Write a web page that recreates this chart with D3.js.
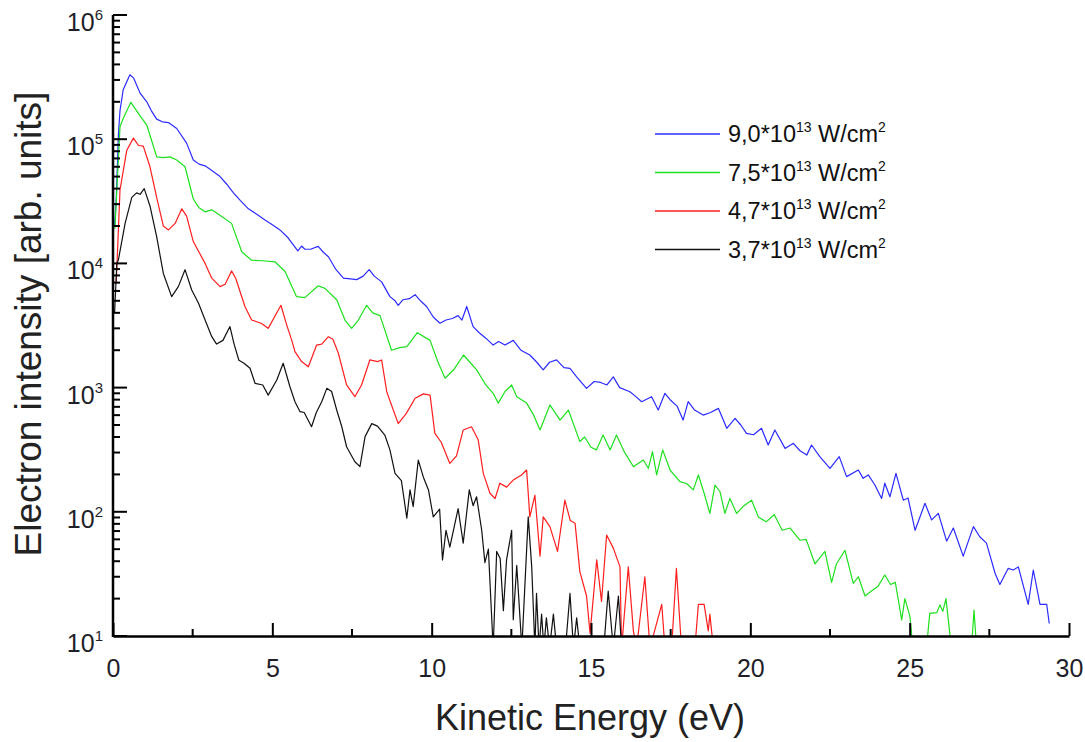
<!DOCTYPE html>
<html>
<head>
<meta charset="utf-8">
<script src="https://cdn.jsdelivr.net/npm/d3@7"></script>
<style>
  body { margin: 0; background: #fff; }
  text { font-family: "Liberation Sans", Arial, sans-serif; }
</style>
</head>
<body>
<div id="chart"></div>
<script>
// x ticks (eV) and y decades (10^n)
const xMajorTicks = [0, 5, 10, 15, 20, 25, 30];
const xMinorTicks = [2.5, 7.5, 12.5, 17.5, 22.5, 27.5];
const yDecades = [1, 2, 3, 4, 5, 6];

const legendLabels = ["9,0", "7,5", "4,7", "3,7"];
const colors = ["#2b2bff", "#1ee01e", "#ff1e1e", "#111111"];

// [energy eV, intensity]
const s90 = [
  [0.05, 2.0e4], [0.10, 3.2e4], [0.17, 1.1e5], [0.22, 1.7e5], [0.32, 2.5e5], [0.53, 3.3e5],
  [0.65, 3.1e5], [0.85, 2.35e5], [1.06, 2.0e5], [1.2, 1.7e5], [1.37, 1.45e5], [1.55, 1.38e5],
  [1.74, 1.36e5], [2.0, 1.22e5], [2.31, 9.3e4], [2.52, 6.8e4], [2.7, 6.3e4], [2.89, 6.1e4],
  [3.1, 5.6e4], [3.36, 5.0e4], [3.55, 4.4e4], [3.78, 3.7e4], [4.0, 3.2e4], [4.25, 2.75e4],
  [4.5, 2.5e4], [4.77, 2.24e4], [5.0, 2.05e4], [5.24, 1.86e4], [5.5, 1.6e4], [5.8, 1.26e4],
  [5.92, 1.38e4], [6.02, 1.3e4], [6.2, 1.3e4], [6.44, 1.37e4], [6.6, 1.23e4], [6.76, 1.13e4],
  [7.0, 8.9e3], [7.23, 7.6e3], [7.45, 7.5e3], [7.65, 7.4e3], [7.85, 7.9e3], [8.04, 8.9e3],
  [8.2, 7.9e3], [8.43, 7.1e3], [8.69, 5.4e3], [8.85, 5.0e3], [8.95, 4.6e3], [9.1, 5.1e3],
  [9.3, 5.2e3], [9.48, 5.6e3], [9.65, 5.0e3], [9.84, 4.5e3], [10.05, 3.7e3], [10.26, 3.3e3],
  [10.45, 3.5e3], [10.65, 3.6e3], [10.83, 3.8e3], [10.95, 3.5e3], [11.1, 4.5e3], [11.3, 3.1e3],
  [11.5, 2.75e3], [11.7, 2.5e3], [11.93, 2.2e3], [12.1, 2.35e3], [12.3, 2.2e3], [12.56, 2.4e3],
  [12.8, 2.0e3], [13.08, 1.83e3], [13.3, 1.6e3], [13.5, 1.39e3], [13.7, 1.6e3], [13.92, 1.67e3],
  [14.15, 1.45e3], [14.34, 1.43e3], [14.55, 1.22e3], [14.86, 985], [15.1, 1.12e3], [15.3, 1.1e3],
  [15.5, 1.05e3], [15.7, 1.22e3], [15.9, 1.0e3], [16.22, 927], [16.4, 850], [16.59, 770],
  [16.9, 845], [17.11, 660], [17.32, 900], [17.5, 790], [17.7, 710], [17.89, 548], [18.05, 770],
  [18.25, 660], [18.52, 601], [18.75, 630], [19.0, 680], [19.26, 470], [19.52, 566], [19.7, 500],
  [19.88, 428], [20.1, 417], [20.35, 470], [20.56, 345], [20.77, 456], [21.09, 324], [21.35, 356],
  [21.56, 310], [21.77, 286], [21.92, 345], [22.18, 278], [22.5, 224], [22.79, 278], [23.02, 192],
  [23.39, 217], [23.54, 186], [23.7, 198], [23.9, 166], [24.12, 128], [24.22, 170], [24.38, 132],
  [24.57, 204], [24.8, 124], [24.95, 129], [25.17, 71], [25.48, 117], [25.69, 86], [25.9, 97],
  [26.16, 58], [26.37, 74], [26.68, 44], [27.0, 76], [27.2, 63], [27.41, 56], [27.68, 32],
  [27.83, 26], [28.09, 35], [28.25, 34], [28.41, 36], [28.72, 18], [28.88, 34], [29.09, 18],
  [29.3, 18], [29.38, 12.6]
];

const s75 = [
  [0.06, 1.9e4], [0.22, 1.26e5], [0.32, 1.47e5], [0.56, 1.98e5], [0.79, 1.62e5], [1.06, 1.3e5],
  [1.2, 1.0e5], [1.37, 7.2e4], [1.55, 7.1e4], [1.79, 7.2e4], [2.0, 6.8e4], [2.26, 6.0e4],
  [2.52, 3.3e4], [2.7, 2.8e4], [2.89, 2.6e4], [3.1, 2.7e4], [3.4, 2.4e4], [3.72, 2.1e4],
  [4.04, 1.24e4], [4.35, 1.06e4], [4.7, 1.05e4], [5.08, 1.03e4], [5.4, 8.6e3], [5.76, 5.4e3],
  [6.02, 5.3e3], [6.44, 6.6e3], [6.65, 6.3e3], [7.02, 5.1e3], [7.28, 3.5e3], [7.49, 3.0e3],
  [7.7, 3.5e3], [7.96, 4.6e3], [8.15, 4.0e3], [8.38, 3.8e3], [8.74, 2.0e3], [9.0, 2.1e3],
  [9.22, 2.14e3], [9.55, 2.77e3], [9.95, 2.4e3], [10.2, 1.6e3], [10.42, 1.19e3], [10.7, 1.4e3],
  [11.0, 1.83e3], [11.2, 1.6e3], [11.41, 1.39e3], [11.7, 1.05e3], [11.93, 900], [12.09, 750],
  [12.3, 930], [12.51, 1.05e3], [12.67, 845], [12.98, 750], [13.2, 600], [13.4, 456],
  [13.71, 725], [14.03, 548], [14.29, 660], [14.65, 367], [14.8, 400], [15.0, 331], [15.17, 315],
  [15.38, 415], [15.6, 315], [15.8, 415], [16.05, 302], [16.33, 231], [16.64, 261], [16.8, 224],
  [16.93, 305], [17.06, 198], [17.25, 315], [17.48, 217], [17.79, 175], [18.0, 169], [18.21, 150],
  [18.37, 198], [18.55, 141], [18.73, 97], [18.89, 164], [19.05, 145], [19.2, 97], [19.36, 128],
  [19.57, 97], [19.8, 112], [20.04, 124], [20.25, 91], [20.5, 83], [20.75, 95], [21.0, 71],
  [21.25, 74], [21.56, 59], [21.75, 60], [22.03, 38], [22.34, 48], [22.55, 27], [22.7, 38],
  [22.97, 49], [23.23, 26.5], [23.39, 30], [23.6, 21], [23.8, 23], [24.0, 25], [24.22, 31],
  [24.4, 26], [24.55, 27], [24.75, 13.5], [24.85, 20], [25.01, 14.3], [25.1, 8], [25.53, 8],
  [25.63, 15.2], [25.85, 15.4], [25.95, 17.8], [26.04, 15.8], [26.14, 20], [26.31, 8], [26.94, 8],
  [27.02, 16.2], [27.1, 8]
];

const s47 = [
  [0.10, 6.9e3], [0.22, 3.9e4], [0.43, 8.1e4], [0.64, 1.02e5], [0.8, 8.9e4], [0.95, 8.8e4],
  [1.16, 6.0e4], [1.37, 3.4e4], [1.58, 2.0e4], [1.74, 1.86e4], [1.95, 2.1e4], [2.16, 2.75e4],
  [2.31, 2.4e4], [2.52, 1.5e4], [2.89, 1.0e4], [3.1, 7.6e3], [3.36, 6.5e3], [3.52, 6.8e3],
  [3.72, 8.7e3], [3.85, 7.6e3], [4.14, 4.5e3], [4.35, 3.5e3], [4.65, 3.3e3], [4.87, 3.0e3],
  [5.14, 4.0e3], [5.27, 4.6e3], [5.45, 3.2e3], [5.61, 2.4e3], [5.71, 1.95e3], [5.92, 1.62e3],
  [6.13, 1.47e3], [6.39, 2.2e3], [6.55, 2.24e3], [6.76, 2.57e3], [6.9, 2.45e3], [7.07, 1.9e3],
  [7.33, 1.05e3], [7.59, 845], [7.8, 1.05e3], [8.06, 1.67e3], [8.3, 1.62e3], [8.43, 1.67e3],
  [8.59, 927], [8.95, 513], [9.2, 617], [9.48, 820], [9.74, 890], [9.95, 870], [10.1, 428],
  [10.3, 363], [10.57, 245], [10.78, 282], [10.99, 456], [11.25, 484], [11.46, 380], [11.62, 204],
  [11.83, 141], [11.99, 128], [12.14, 170], [12.35, 158], [12.56, 180], [12.82, 198], [12.98, 217],
  [13.08, 91], [13.24, 136], [13.4, 44], [13.5, 91], [13.71, 76], [13.95, 48], [14.18, 124],
  [14.35, 85], [14.5, 81], [14.65, 33], [14.86, 21], [14.97, 10.5], [15.18, 41], [15.33, 19],
  [15.49, 65], [15.7, 51], [15.91, 36], [15.96, 8], [16.17, 36], [16.33, 11], [16.43, 8],
  [16.69, 30], [16.85, 8], [17.22, 18], [17.32, 8], [17.53, 8], [17.68, 35], [17.84, 8],
  [18.26, 8], [18.37, 18], [18.55, 18], [18.68, 11], [18.73, 15], [18.84, 8]
];

const s37 = [
  [0.05, 4.0e3], [0.12, 1.0e4], [0.17, 1.07e4], [0.38, 2.1e4], [0.59, 3.4e4], [0.74, 3.7e4],
  [0.85, 3.6e4], [0.98, 4.0e4], [1.16, 2.9e4], [1.37, 1.64e4], [1.58, 8.3e3], [1.84, 5.4e3],
  [2.05, 6.5e3], [2.26, 8.9e3], [2.47, 6.1e3], [2.68, 4.8e3], [2.89, 3.5e3], [3.1, 2.57e3],
  [3.25, 2.24e3], [3.45, 2.4e3], [3.67, 3.1e3], [3.8, 2.24e3], [3.95, 1.66e3], [4.1, 1.58e3],
  [4.3, 1.43e3], [4.46, 1.08e3], [4.7, 1.05e3], [4.87, 870], [5.14, 1.15e3], [5.34, 1.57e3],
  [5.55, 1.02e3], [5.71, 770], [5.87, 640], [6.0, 630], [6.23, 484], [6.38, 630], [6.55, 770],
  [6.71, 986], [6.86, 930], [7.02, 660], [7.18, 484], [7.33, 334], [7.59, 253], [7.75, 231],
  [7.91, 403], [8.12, 513], [8.3, 490], [8.53, 415], [8.69, 315], [8.85, 204], [9.05, 178],
  [9.22, 89], [9.32, 150], [9.42, 110], [9.58, 261], [9.74, 190], [9.9, 150], [10.05, 91],
  [10.25, 105], [10.34, 41], [10.45, 71], [10.57, 52], [10.83, 106], [10.99, 56], [11.18, 150],
  [11.3, 112], [11.41, 132], [11.57, 71], [11.67, 39], [11.78, 50], [11.93, 8], [12.04, 48],
  [12.15, 42], [12.25, 16], [12.35, 41], [12.51, 71], [12.56, 13.5], [12.67, 37], [12.83, 8],
  [13.03, 91], [13.14, 36], [13.24, 8], [13.29, 22], [13.37, 8], [13.45, 15], [13.52, 8],
  [13.6, 14], [13.7, 8], [13.82, 15], [13.92, 8], [14.2, 8], [14.34, 22], [14.45, 8], [14.55, 14],
  [14.65, 8], [15.4, 8], [15.54, 23], [15.7, 8], [15.86, 21], [15.96, 8]
];

const seriesList = [s90, s75, s47, s37];

const width = 1085, height = 742;
const margin = { top: 15, right: 16, bottom: 106, left: 113 };

const svg = d3.select("#chart").append("svg")
  .attr("width", width)
  .attr("height", height);

const x = d3.scaleLinear().domain([0, 30]).range([margin.left, width - margin.right]);
const y = d3.scaleLog().domain([10, 1e6]).range([height - margin.bottom, margin.top]);

svg.append("clipPath").attr("id", "plot")
  .append("rect")
  .attr("x", margin.left).attr("y", margin.top)
  .attr("width", x(30) - margin.left)
  .attr("height", y(10) - margin.top);

const line = d3.line().x(d => x(d[0])).y(d => y(d[1]));

const lines = svg.append("g").attr("clip-path", "url(#plot)");
seriesList.forEach((s, i) => {
  lines.append("path")
    .datum(s)
    .attr("fill", "none")
    .attr("stroke", colors[i])
    .attr("stroke-width", 1.2)
    .attr("stroke-linejoin", "round")
    .attr("d", line);
});

// axes
const axisColor = "#000";
const yTicks = y.ticks();
const yAxis = svg.append("g").attr("transform", `translate(${margin.left},0)`);
yAxis.selectAll("line.tk")
  .data(yTicks)
  .join("line")
  .attr("class", "tk")
  .attr("x1", 0)
  .attr("x2", d => (yDecades.some(e => Math.abs(d - 10 ** e) < 1e-6) ? 14 : 7))
  .attr("y1", d => y(d)).attr("y2", d => y(d))
  .attr("stroke", axisColor).attr("stroke-width", 2);
yAxis.append("line")
  .attr("x1", 0).attr("x2", 0)
  .attr("y1", y(1e6)).attr("y2", y(10) + 1)
  .attr("stroke", axisColor).attr("stroke-width", 2.5);

const yLab = yAxis.selectAll("text.lab")
  .data(yDecades)
  .join("text")
  .attr("class", "lab")
  .attr("x", -10)
  .attr("y", d => y(10 ** d) + 16)
  .attr("text-anchor", "end")
  .attr("fill", "#1f1f2a")
  .style("font-size", "25px");
yLab.append("tspan").text("10");
yLab.append("tspan")
  .attr("dy", -11)
  .style("font-size", "15px")
  .text(d => d);

const xAxis = svg.append("g").attr("transform", `translate(0,${y(10)})`);
xAxis.call(d3.axisBottom(x).tickValues(xMajorTicks).tickSize(-13).tickSizeOuter(0).tickPadding(23))
  .call(g => g.select(".domain").attr("stroke-width", 2.5))
  .call(g => g.selectAll(".tick line").attr("stroke-width", 2))
  .call(g => g.selectAll(".tick text")
    .attr("fill", "#1f1f2a")
    .style("font-size", "25px")
    .style("font-family", "'Liberation Sans', Arial, sans-serif"));
xAxis.selectAll("line.minor")
  .data(xMinorTicks)
  .join("line")
  .attr("class", "minor")
  .attr("x1", d => x(d)).attr("x2", d => x(d))
  .attr("y1", 0).attr("y2", -7)
  .attr("stroke", axisColor).attr("stroke-width", 2);

// titles
svg.append("text")
  .attr("x", 590)
  .attr("y", 730)
  .attr("text-anchor", "middle")
  .attr("fill", "#222")
  .style("font-size", "36px")
  .text("Kinetic Energy (eV)");

svg.append("text")
  .attr("transform", `translate(41,324) rotate(-90)`)
  .attr("text-anchor", "middle")
  .attr("fill", "#222")
  .style("font-size", "37px")
  .text("Electron intensity [arb. units]");

// legend
const legend = svg.append("g").attr("transform", "translate(655,134)");
legendLabels.forEach((lab, i) => {
  const row = legend.append("g").attr("transform", `translate(0,${i * 38.5})`);
  row.append("line")
    .attr("x1", 0).attr("x2", 65)
    .attr("stroke", colors[i])
    .attr("stroke-width", 1.5);
  const t = row.append("text")
    .attr("x", 73).attr("y", 8)
    .attr("fill", "#111")
    .style("font-size", "23.5px");
  t.append("tspan").text(lab + "*10");
  t.append("tspan").attr("dy", -10).style("font-size", "14px").text("13");
  t.append("tspan").attr("dy", 10).text(" W/cm");
  t.append("tspan").attr("dy", -10).style("font-size", "14px").text("2");
});
</script>
</body>
</html>
